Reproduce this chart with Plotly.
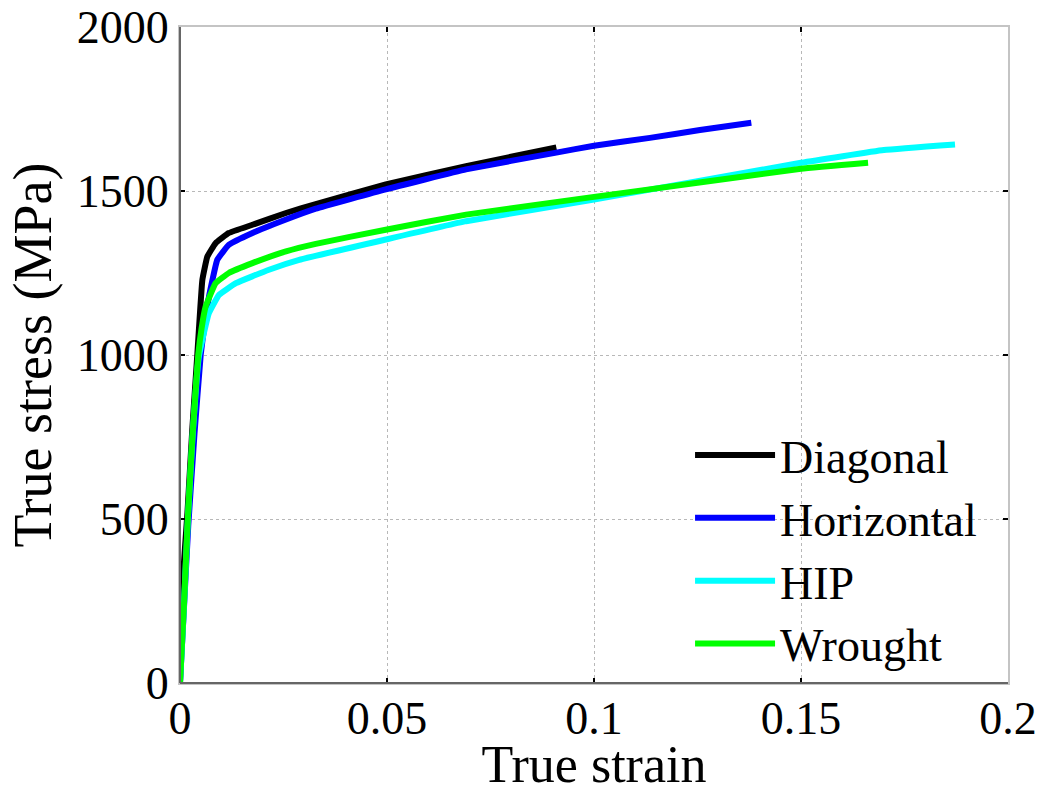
import plotly.graph_objects as go

# ---- data ----
diag_strain = [0, 0.0006, 0.0018, 0.003, 0.0042, 0.0054, 0.0066, 0.0086, 0.0118, 0.0175,
               0.0256, 0.0328, 0.0497, 0.0691, 0.0909]
diag_stress = [0, 300, 520, 780, 1005, 1229, 1300, 1341, 1372, 1397,
               1433, 1460, 1520, 1576, 1633]

horiz_strain = [0, 0.001, 0.002, 0.0035, 0.005, 0.0058, 0.007, 0.009, 0.0118, 0.0175,
                0.0256, 0.0328, 0.0497, 0.0691, 0.0909, 0.1, 0.1135, 0.1256, 0.138]
horiz_stress = [0, 240, 480, 760, 1000, 1080, 1178, 1290, 1336, 1372,
                1413, 1446, 1505, 1566, 1617, 1638, 1662, 1686, 1708]

hip_strain = [0, 0.001, 0.0019, 0.003, 0.0045, 0.0054, 0.007, 0.0094, 0.0135, 0.0215,
              0.0288, 0.0497, 0.0691, 0.1, 0.125, 0.15, 0.17, 0.1872]
hip_stress = [0, 245, 500, 745, 990, 1046, 1128, 1183, 1219, 1260,
              1290, 1352, 1408, 1474, 1530, 1586, 1625, 1642]

wrought_strain = [0, 0.001, 0.0019, 0.003, 0.0044, 0.0052, 0.0062, 0.0086, 0.0118, 0.0175,
                  0.0256, 0.0328, 0.0497, 0.0691, 0.1, 0.125, 0.15, 0.1662]
wrought_stress = [0, 250, 505, 750, 1000, 1080, 1148, 1219, 1250, 1280,
                  1316, 1339, 1382, 1428, 1482, 1525, 1568, 1586]

series_names = ["Diagonal", "Horizontal", "HIP", "Wrought"]
series_colors = ["#000000", "#0000ff", "#00ffff", "#00ff00"]
x_ticks = [0, 0.05, 0.1, 0.15, 0.2]
x_ticktext = ["0", "0.05", "0.1", "0.15", "0.2"]
y_ticks = [0, 500, 1000, 1500, 2000]

FONT = "Liberation Serif, Times New Roman, serif"

fig = go.Figure()
for name, color, xs, ys in zip(
        series_names, series_colors,
        [diag_strain, horiz_strain, hip_strain, wrought_strain],
        [diag_stress, horiz_stress, hip_stress, wrought_stress]):
    fig.add_trace(go.Scatter(x=xs, y=ys, mode="lines", name=name,
                             line=dict(color=color, width=6, shape="spline", smoothing=0.3)))

axis_common = dict(
    showgrid=True, gridcolor="#b8b8b8", griddash="dot", gridwidth=1,
    zeroline=False, showline=True, linecolor="#c4c4c4", linewidth=2,
    mirror="ticks", ticks="inside", ticklen=5, tickwidth=2, tickcolor="#000000",
    tickfont=dict(family=FONT, size=46, color="#000000"),
    automargin=False,
)

fig.update_layout(
    width=1042, height=793,
    margin=dict(l=180, r=34, t=27, b=110),
    paper_bgcolor="white", plot_bgcolor="white",
    font=dict(family=FONT, color="#000000"),
    xaxis=dict(range=[0, 0.2], tickvals=x_ticks, ticktext=x_ticktext,
               ticklabelstandoff=-6,
               title=dict(text="True strain", font=dict(family=FONT, size=52), standoff=2),
               **axis_common),
    yaxis=dict(range=[0, 2000], tickvals=y_ticks,
               title=dict(text="True stress (MPa)", font=dict(family=FONT, size=54), standoff=8),
               **axis_common),
    legend=dict(x=0.616, y=0.403, xanchor="left", yanchor="top",
                bgcolor="rgba(0,0,0,0)", borderwidth=0,
                font=dict(family=FONT, size=46, color="#000000"),
                itemwidth=80, tracegroupgap=0),
    showlegend=True,
    shapes=[
        dict(type="line", xref="paper", yref="paper", x0=0, x1=0, y0=0, y1=1,
             line=dict(color="#666666", width=2), layer="above"),
        dict(type="line", xref="paper", yref="paper", x0=0, x1=1, y0=0, y1=0,
             line=dict(color="#666666", width=2), layer="above"),
    ],
)

fig.write_html("out.html")
